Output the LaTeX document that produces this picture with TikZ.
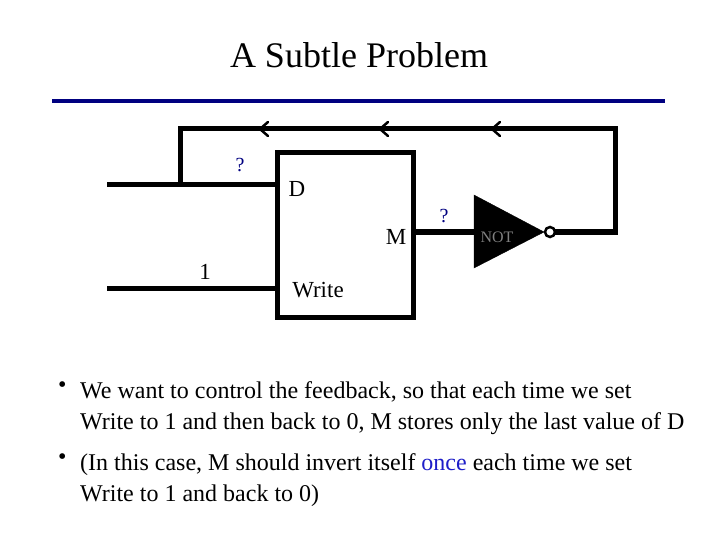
\documentclass[tikz,border=0pt]{standalone}
\usepackage{fontspec}
\setmainfont{Liberation Serif}
\usetikzlibrary{arrows.meta}
\definecolor{navy}{RGB}{0,0,128}
\definecolor{onceblue}{RGB}{30,30,200}
\begin{document}
\begin{tikzpicture}[x=1pt,y=-1pt,
  wire/.style={line width=5pt},
  chev/.style={line width=2.5pt,line cap=round},
  lab/.style={font=\fontsize{23}{24}\selectfont,inner sep=0pt},
  qm/.style={font=\fontsize{20}{22}\selectfont,text=navy,inner sep=0pt},
  txt/.style={font=\fontsize{24}{31}\selectfont,anchor=north west,align=left,inner sep=0pt}]
\useasboundingbox (0,0) rectangle (720,540);
\node[font=\fontsize{36}{40}\selectfont] (title) at (359,55) {A Subtle Problem};
\coordinate (bl) at (52,101); \coordinate (br) at (665,101);
\draw[navy,line width=4pt] (bl) -- (br);
% box
\node[draw,line width=5pt,minimum width=136pt,minimum height=164pt,inner sep=0pt] (box) at (345,235) {};
% wires
\coordinate (dIn) at (107,185); \coordinate (dJ) at (180,185); \coordinate (tl) at (180,129);
\coordinate (tr) at (615,129); \coordinate (rb) at (615,232);
\coordinate (wIn) at (107,288);
\draw[wire] (dIn) -- (box.west |- dIn);
\draw[wire,line cap=rect] (dJ) -- (tl) -- (tr) -- (rb) -- (556,232);
\draw[wire] (wIn) -- (box.west |- wIn);
\draw[wire] (box.east |- rb) -- (474,232);
% gate
\filldraw (474,195) -- (544,232) -- (474,268) -- cycle;
\draw[line width=2.5pt,fill=white] (550,232) circle (5);
\node[font=\fontsize{16}{17}\selectfont,text=gray,inner sep=0pt] (notl) at (497,237) {NOT};
% chevrons
\foreach \x in {260,380,492}{\draw[chev] (\x+8,122) -- (\x,129) -- (\x+8,136);}
% labels
\node[qm] (q1) at (240,165) {?};
\node[qm] (q2) at (444,216) {?};
\node[lab] (D) at (297,189) {D};
\node[lab] (M) at (396,237) {M};
\node[lab] (W) at (318,290) {Write};
\node[lab] (one) at (205,272) {1};
% bullets
\node[txt] (b1) at (58,381) {•};
\node[txt] (t1) at (80,381) {We want to control the feedback, so that each time we set\\Write to 1 and then back to 0, M stores only the last value of D};
\node[txt] (b2) at (58,453) {•};
\node[txt] (t2) at (80,453) {(In this case, M should invert itself \textcolor{onceblue}{once} each time we set\\Write to 1 and back to 0)};
\end{tikzpicture}
\end{document}
